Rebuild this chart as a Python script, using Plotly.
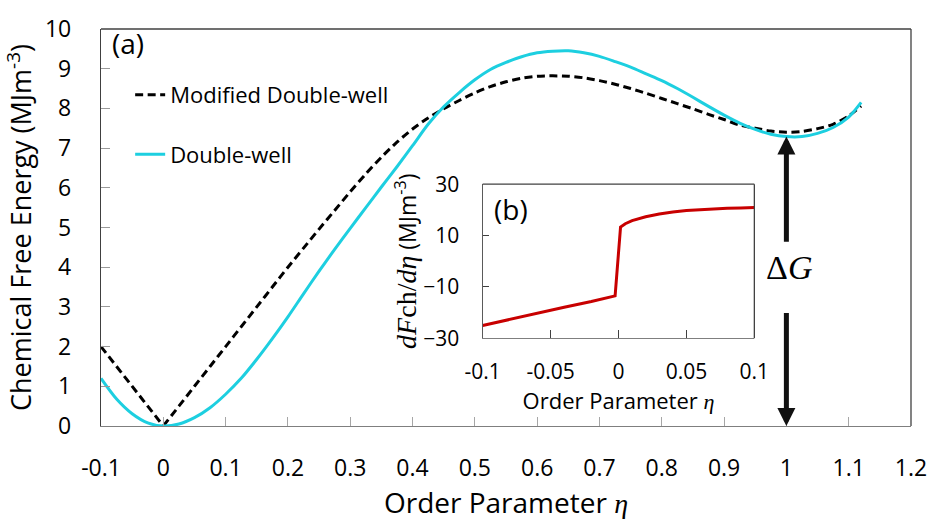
import plotly.graph_objects as go

# ---- main panel (a): chemical free energy vs order parameter ----
eta = [-0.100, -0.075, -0.050, -0.025, 0.000, 0.025, 0.050, 0.075, 0.100, 0.125,
       0.150, 0.175, 0.200, 0.225, 0.250, 0.275, 0.300, 0.325, 0.350, 0.375,
       0.400, 0.425, 0.450, 0.475, 0.500, 0.525, 0.550, 0.575, 0.600, 0.625,
       0.650, 0.675, 0.700, 0.725, 0.750, 0.775, 0.800, 0.825, 0.850, 0.875,
       0.900, 0.925, 0.950, 0.975, 1.000, 1.025, 1.050, 1.075, 1.100, 1.120]

f_modified = [2.00, 1.50, 1.00, 0.50, 0.00, 0.50, 1.00, 1.50, 2.00, 2.50,
              3.00, 3.50, 4.00, 4.48, 4.96, 5.43, 5.90, 6.35, 6.77, 7.15,
              7.48, 7.76, 7.99, 8.20, 8.39, 8.55, 8.67, 8.76, 8.81, 8.82,
              8.81, 8.77, 8.70, 8.61, 8.50, 8.38, 8.25, 8.12, 7.99, 7.85,
              7.72, 7.58, 7.50, 7.43, 7.40, 7.42, 7.49, 7.60, 7.81, 8.06]

f_double = [1.20, 0.68, 0.31, 0.08, 0.00, 0.05, 0.21, 0.46, 0.80, 1.20,
            1.68, 2.20, 2.75, 3.33, 3.90, 4.45, 4.98, 5.50, 6.02, 6.53,
            7.06, 7.60, 8.04, 8.40, 8.72, 8.98, 9.16, 9.30, 9.40, 9.44,
            9.45, 9.40, 9.31, 9.18, 9.04, 8.87, 8.70, 8.50, 8.28, 8.05,
            7.83, 7.63, 7.47, 7.35, 7.29, 7.29, 7.37, 7.52, 7.78, 8.15]

x_ticks = [-0.1, 0.0, 0.1, 0.2, 0.3, 0.4, 0.5, 0.6, 0.7, 0.8, 0.9, 1.0, 1.1, 1.2]
x_tick_text = ["-0.1", "0", "0.1", "0.2", "0.3", "0.4", "0.5", "0.6",
               "0.7", "0.8", "0.9", "1", "1.1", "1.2"]
y_ticks = [0, 1, 2, 3, 4, 5, 6, 7, 8, 9, 10]

# driving force Delta G: from the well at eta=0 up to the well at eta=1
dg_eta = 1.0
dg_low = 0.0
dg_high = 7.29

# ---- inset (b): derivative of the modified double-well ----
eta_b = [-0.100, -0.080, -0.060, -0.040, -0.020, -0.010, -0.0025,
         0.0015, 0.005, 0.010, 0.020, 0.030, 0.040, 0.050, 0.060,
         0.070, 0.080, 0.090, 0.100]
dfdeta_b = [-25.0, -22.6, -20.2, -17.9, -15.7, -14.6, -13.5,
            13.3, 14.6, 15.8, 17.3, 18.4, 19.2, 19.7, 20.1,
            20.4, 20.6, 20.75, 20.9]
xb_ticks = [-0.1, -0.05, 0.0, 0.05, 0.1]
xb_tick_text = ["-0.1", "-0.05", "0", "0.05", "0.1"]
yb_ticks = [-30, -10, 10, 30]

FONT = "Open Sans"
SERIF = "Liberation Serif"
CYAN = "#1DCFE0"
RED = "#C80000"
ETA = f'<span style="font-family:{SERIF};font-style:italic">η</span>'

# the modified well has a cusp at eta = 0: straight branch on the left,
# smooth branch from the cusp onwards
cusp = eta.index(0.0)

fig = go.Figure()

dashed = dict(color="black", width=3, dash="8px,4.5px")
fig.add_trace(go.Scatter(
    x=eta[:cusp + 1], y=f_modified[:cusp + 1], mode="lines",
    name="Modified Double-well", legendgroup="mod", showlegend=False,
    line=dashed, legend="legend"))
fig.add_trace(go.Scatter(
    x=eta[cusp:], y=f_modified[cusp:], mode="lines",
    name="Modified Double-well", legendgroup="mod",
    line=dict(**dashed, shape="spline", smoothing=0.8), legend="legend"))
fig.add_trace(go.Scatter(
    x=eta, y=f_double, mode="lines", name="Double-well",
    line=dict(color=CYAN, width=3, shape="spline", smoothing=0.8),
    legend="legend2"))
fig.add_trace(go.Scatter(
    x=eta_b, y=dfdeta_b, mode="lines", showlegend=False,
    line=dict(color=RED, width=3), xaxis="x2", yaxis="y2"))

axis_common = dict(showgrid=False, zeroline=False, ticks="inside",
                   showline=True)

inset_ytitle = (f'<span style="font-family:{SERIF};font-style:italic;font-size:28px">dF</span>'
                f'<span style="font-family:{SERIF};font-size:28px">ch/</span>'
                f'<span style="font-family:{SERIF};font-style:italic;font-size:28px">dη</span>'
                ' (MJm<sup>-3</sup>)')

fig.update_layout(
    width=939, height=525,
    margin=dict(l=101, r=21, t=14, b=99),
    paper_bgcolor="white", plot_bgcolor="white",
    font=dict(family=FONT, color="black"),
    xaxis=dict(**axis_common, range=[-0.1, 1.2], tickvals=x_ticks,
               ticktext=x_tick_text, ticklen=9, tickcolor="#a6a6a6",
               linecolor="#7f7f7f", linewidth=1.3,
               tickfont=dict(size=23), ticklabelstandoff=21,
               title=dict(text=f"Order Parameter {ETA}",
                          font=dict(size=28), standoff=6)),
    yaxis=dict(**axis_common, range=[0, 10], tickvals=y_ticks,
               ticklen=9, tickcolor="#9a9a9a",
               linecolor="#404040", linewidth=1.3,
               tickfont=dict(size=23), ticklabelstandoff=24,
               title=dict(text="Chemical Free Energy (MJm<sup>-3</sup>)",
                          font=dict(size=27), standoff=6)),
    xaxis2=dict(**axis_common, domain=[0.4712, 0.8066], anchor="y2",
                range=[-0.1, 0.1], tickvals=xb_ticks, ticktext=xb_tick_text,
                ticklen=8, tickcolor="#404040", linecolor="#7f7f7f",
                linewidth=1.3, tickfont=dict(size=21), ticklabelstandoff=14,
                title=dict(text=f"Order Parameter {ETA}",
                           font=dict(size=22), standoff=0)),
    yaxis2=dict(**axis_common, domain=[0.2209, 0.6092], anchor="x2",
                range=[-30, 30], tickvals=yb_ticks,
                ticklen=6, tickcolor="#404040", linecolor="#5a5a5a",
                linewidth=1.3, tickfont=dict(size=21), ticklabelstandoff=18,
                title=dict(text=inset_ytitle, font=dict(size=23), standoff=0)),
    legend=dict(x=0.036, y=0.834, xanchor="left", yanchor="middle",
                bgcolor="rgba(0,0,0,0)", font=dict(size=22), itemwidth=30),
    legend2=dict(x=0.036, y=0.684, xanchor="left", yanchor="middle",
                 bgcolor="rgba(0,0,0,0)", font=dict(size=22), itemwidth=30),
)

# darker frame on the top and right edges of both panels
for xr, yr in (("x domain", "y domain"), ("x2 domain", "y2 domain")):
    fig.add_shape(type="line", xref=xr, yref=yr, x0=0, x1=1, y0=1, y1=1,
                  line=dict(color="#404040", width=1.3))
    fig.add_shape(type="line", xref=xr, yref=yr, x0=1, x1=1, y0=0, y1=1,
                  line=dict(color="#404040", width=1.3))

# panel labels
fig.add_annotation(text="(a)", xref="x domain", yref="y domain", x=0.011,
                   y=0.965, xanchor="left", yanchor="middle",
                   showarrow=False, font=dict(size=28))
fig.add_annotation(text="(b)", xref="x2 domain", yref="y2 domain", x=0.035,
                   y=0.84, xanchor="left", yanchor="middle",
                   showarrow=False, font=dict(size=28))

# Delta G double arrow with its label in the gap
dg_text_y = 4.0
fig.add_annotation(text=f'Δ<i>G</i>', x=dg_eta, y=dg_text_y,
                   xref="x", yref="y", showarrow=False, xshift=3,
                   font=dict(size=34, family=SERIF))
arrow = dict(xref="x", yref="y", axref="x", ayref="y", text=" ",
             showarrow=True, arrowhead=2, arrowsize=0.72, arrowwidth=5,
             arrowcolor="#111111", standoff=0, startstandoff=0)
fig.add_annotation(**arrow, x=dg_eta, y=dg_high, ax=dg_eta, ay=4.39)
fig.add_annotation(**arrow, x=dg_eta, y=dg_low, ax=dg_eta, ay=3.10)

fig.write_html("out.html")
